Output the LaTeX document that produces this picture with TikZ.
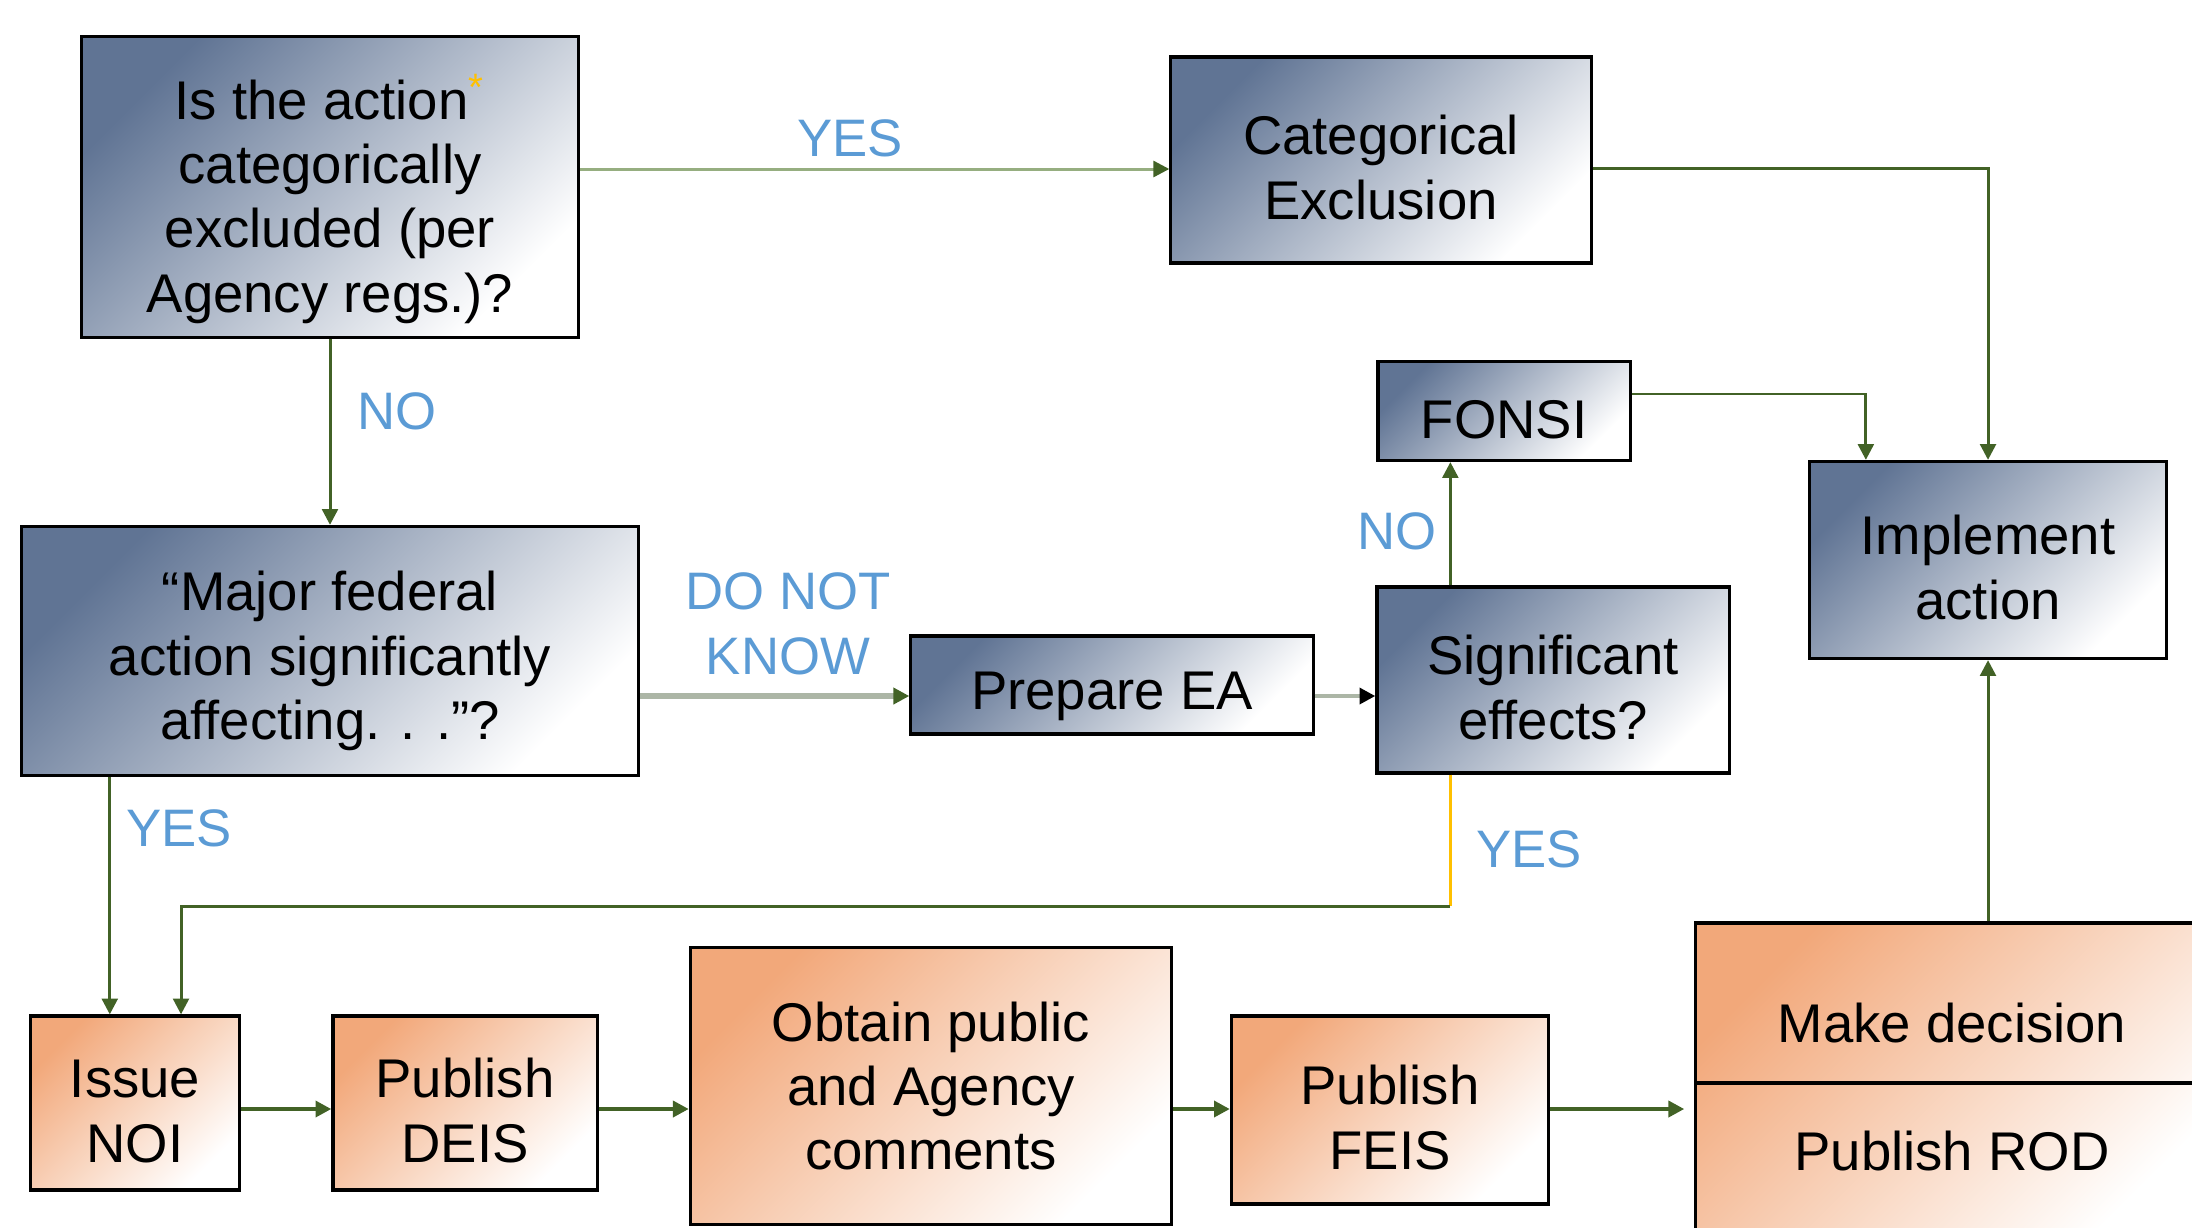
\documentclass[tikz,border=0pt]{standalone}
\usepackage{fontspec}
\setmainfont{Liberation Sans}
\usetikzlibrary{arrows.meta}

\definecolor{boxblue}{RGB}{96,116,148}
\definecolor{boxorange}{RGB}{242,168,122}
\definecolor{linegreen}{RGB}{66,98,38}
\definecolor{palegreen}{RGB}{150,174,128}
\definecolor{palegray}{RGB}{172,182,166}
\definecolor{ansblue}{RGB}{91,155,213}
\definecolor{stargold}{RGB}{255,192,0}

% invisible strut on the first line, pushes the text down a little
\newcommand{\padtop}[1]{\rule{0pt}{#1}}

\tikzset{
  box/.style={draw=black, line width=0.9pt, align=center, inner sep=0pt,
    font=\fontsize{15.5}{18.3}\selectfont},
  bluebox/.style={box, left color=boxblue, right color=white, shading angle=45},
  orangebox/.style={box, left color=boxorange, right color=white, shading angle=45},
  lift/.style={execute at begin node={\rule{0pt}{#1}}},
  plain/.style={align=center, inner sep=0pt, font=\fontsize{15.5}{18.3}\selectfont},
  flow/.style={draw=linegreen, line width=0.85pt,
    -{Triangle[length=4.5pt,width=4.5pt,color=linegreen]}},
  bigflow/.style={flow, line width=1.3pt},
  ans/.style={text=ansblue, align=center, font=\fontsize{15}{18.6}\selectfont},
}

\begin{document}
\begin{tikzpicture}[x=0.01cm, y=-0.01cm]
    \useasboundingbox (0,0) rectangle (2192,1227);
    \clip (0,0) rectangle (2192,1227);

    % decision and outcome boxes
    \node[bluebox, minimum width=4.97cm, minimum height=3.01cm] (q1) at (330,187)
        {\padtop{19.5pt}Is the action\textcolor{stargold}{\textsuperscript{*}}\\categorically\\excluded (per\\Agency regs.)?};
    \node[bluebox, minimum width=4.20cm, minimum height=2.06cm] (catex) at (1381,160)
        {\padtop{15.5pt}Categorical\\Exclusion};
    \node[bluebox, lift=16pt, minimum width=2.52cm, minimum height=0.99cm] (fonsi) at (1504,411) {FONSI};
    \node[bluebox, minimum width=3.57cm, minimum height=1.97cm] (impl) at (1988,560)
        {\padtop{15.5pt}Implement\\action};
    \node[bluebox, minimum width=6.17cm, minimum height=2.49cm] (major) at (330,651)
        {\padtop{17pt}``Major federal\\action significantly\\affecting. . .''?};
    \node[bluebox, lift=17pt, minimum width=4.02cm, minimum height=0.98cm] (prep) at (1112,685) {Prepare EA};
    \node[bluebox, minimum width=3.52cm, minimum height=1.86cm] (sig) at (1553,680)
        {\padtop{15.5pt}Significant\\effects?};

    % EIS steps
    \node[orangebox, minimum width=2.09cm, minimum height=1.74cm] (noi) at (135,1103)
        {\padtop{15.5pt}Issue\\NOI};
    \node[orangebox, minimum width=2.64cm, minimum height=1.74cm] (deis) at (465,1103)
        {\padtop{15.5pt}Publish\\DEIS};
    \node[orangebox, minimum width=4.81cm, minimum height=2.77cm] (obtain) at (931,1086)
        {Obtain public\\and Agency\\comments};
    \node[orangebox, minimum width=3.17cm, minimum height=1.88cm] (feis) at (1390,1110)
        {\padtop{15.5pt}Publish\\FEIS};
    \node[orangebox, minimum width=5.12cm, minimum height=3.20cm] (decbox) at (1952,1083) {};
    \draw[line width=0.9pt] (decbox.west) -- (decbox.east);
    \node[plain] (decide) at (1952,1023) {Make decision};
    \node[plain] (rod) at (1952,1151) {Publish ROD};

    % helper points
    \coordinate (cxin) at ([yshift=-0.9mm]catex.west);
    \coordinate (cxout) at ([yshift=-0.8mm]catex.east);
    \coordinate (fonsiout) at ([yshift=1.7mm]fonsi.east);
    \coordinate (implin) at ([xshift=5.8mm]impl.north west);
    \coordinate (prepin) at ([yshift=-1.1mm]prep.west);
    \coordinate (sigtop) at ([xshift=7.5mm]sig.north west);
    \coordinate (sigout) at ([xshift=7.5mm]sig.south west);
    \coordinate (bend) at (sigout |- 0,906);
    \coordinate (majout) at ([xshift=9mm]major.south west);
    \coordinate (noiin) at ([xshift=4.6mm]noi.north);
    \coordinate (row) at (0,1109);

    % connectors
    \draw[flow, draw=palegreen] (cxin -| q1.east) -- (cxin);
    \draw[flow] (cxout) -| (impl.north);
    \draw[flow] (fonsiout) -| (implin);
    \draw[flow] (q1.south) -- (major.north);
    \draw[flow, draw=palegray, line width=1.6pt] (prepin -| major.east) -- (prepin);
    \draw[draw=palegray, line width=1.2pt, -{Triangle[length=4.5pt,width=4.5pt,color=black]}]
        (prepin -| prep.east) -- (prepin -| sig.west);
    \draw[flow] (sigtop) -- (sigtop |- fonsi.south);
    \draw[draw=stargold, line width=0.85pt] (sigout) -- (bend);
    \draw[flow] (bend) -| (noiin);
    \draw[flow] (majout) -- (majout |- noi.north);
    \draw[bigflow] (noi.east |- row) -- (deis.west |- row);
    \draw[bigflow] (deis.east |- row) -- (obtain.west |- row);
    \draw[bigflow] (obtain.east |- row) -- (feis.west |- row);
    \draw[bigflow, shorten >=1mm] (feis.east |- row) -- (decbox.west |- row);
    \draw[flow] (decbox.north -| impl.south) -- (impl.south);

    % answers
    \node[ans] (yesce) at (850,138) {YES};
    \node[ans] (nomajor) at (397,411) {NO};
    \node[ans] (dnk) at (788,624) {DO NOT\\KNOW};
    \node[ans] (nofonsi) at (1397,531) {NO};
    \node[ans] (yeseis) at (179,828) {YES};
    \node[ans] (yessig) at (1529,849) {YES};
\end{tikzpicture}
\end{document}
